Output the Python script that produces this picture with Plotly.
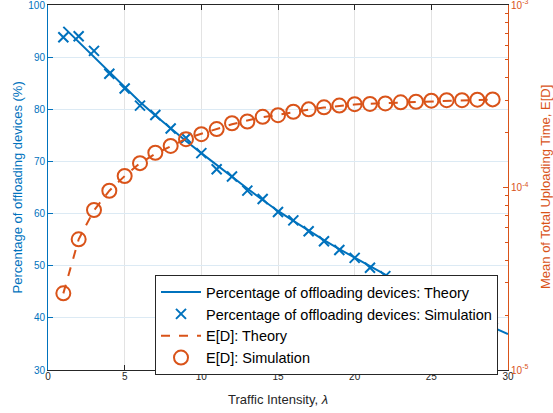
import plotly.graph_objects as go

# ---- data ----
lam_theory = list(range(1, 31))
pct_theory = [95.8, 92.9, 90.0, 87.0, 84.1, 81.4, 78.8, 76.3, 73.9, 71.6,
              69.3, 67.0, 64.8, 62.6, 60.5, 58.6, 56.7, 54.9, 53.2, 51.5,
              49.9, 48.3, 46.8, 45.3, 43.8, 42.3, 40.9, 39.5, 38.2, 36.9]

lam_sim = list(range(1, 30))
pct_sim = [93.8, 94.0, 91.2, 86.8, 84.0, 80.7, 78.9, 76.3, 74.5, 71.6,
           68.5, 67.1, 64.4, 62.8, 60.3, 58.7, 56.6, 54.7, 53.0, 51.5,
           49.6, 48.0, 46.5, 45.1, 43.6, 42.2, 40.8, 39.4, 38.1]

lam_ed = list(range(1, 30))
ed_theory = [2.63e-5, 5.2e-5, 7.5e-5, 9.6e-5, 1.155e-4, 1.36e-4, 1.53e-4, 1.69e-4, 1.85e-4, 1.97e-4,
             2.09e-4, 2.22e-4, 2.33e-4, 2.43e-4, 2.50e-4, 2.59e-4, 2.67e-4, 2.74e-4, 2.80e-4, 2.85e-4,
             2.88e-4, 2.90e-4, 2.93e-4, 2.95e-4, 2.98e-4, 3.00e-4, 3.01e-4, 3.02e-4, 3.03e-4]
ed_sim = [2.63e-5, 5.2e-5, 7.53e-5, 9.6e-5, 1.156e-4, 1.36e-4, 1.55e-4, 1.69e-4, 1.84e-4, 1.96e-4,
          2.09e-4, 2.25e-4, 2.30e-4, 2.44e-4, 2.49e-4, 2.60e-4, 2.68e-4, 2.75e-4, 2.81e-4, 2.86e-4,
          2.87e-4, 2.89e-4, 2.93e-4, 2.95e-4, 2.99e-4, 3.01e-4, 3.01e-4, 3.03e-4, 3.04e-4]

x_ticks = [0, 5, 10, 15, 20, 25, 30]
y_ticks = [30, 40, 50, 60, 70, 80, 90, 100]
y2_ticks = [1e-5, 1e-4, 1e-3]
y2_ticktext = ["10<sup>-5</sup>", "10<sup>-4</sup>", "10<sup>-3</sup>"]
y2_minor = [m * 10 ** e for e in (-5, -4) for m in range(2, 10)]

BLUE = "#0072BD"
ORANGE = "#D95319"
DARK = "#262626"
FONT = "Liberation Sans"

fig = go.Figure()
fig.add_trace(go.Scatter(x=lam_theory, y=pct_theory, mode="lines",
                         line=dict(color=BLUE, width=2),
                         name="Percentage of offloading devices: Theory"))
fig.add_trace(go.Scatter(x=lam_sim, y=pct_sim, mode="markers",
                         marker=dict(symbol="x-thin", size=10, line=dict(color=BLUE, width=2), color=BLUE),
                         name="Percentage of offloading devices: Simulation"))
fig.add_trace(go.Scatter(x=lam_ed, y=ed_theory, mode="lines", yaxis="y2",
                         line=dict(color=ORANGE, width=2, dash="dash"),
                         name="E[D]: Theory"))
fig.add_trace(go.Scatter(x=lam_ed, y=ed_sim, mode="markers", yaxis="y2",
                         marker=dict(symbol="circle-open", size=14, line=dict(color=ORANGE, width=2), color=ORANGE),
                         name="E[D]: Simulation"))

fig.update_layout(
    width=553, height=413,
    margin=dict(l=48, r=45, t=5, b=43, autoexpand=False),
    paper_bgcolor="white", plot_bgcolor="white",
    font=dict(family=FONT, size=10, color=DARK),
    showlegend=True,
    legend=dict(x=(155 - 48) / 460, y=0.260, xanchor="left", yanchor="top",
                bgcolor="white", bordercolor=DARK, borderwidth=1,
                font=dict(family=FONT, size=14.5, color="#000000"),
                itemwidth=40, tracegroupgap=0),
    xaxis=dict(range=[0, 30], tickvals=x_ticks, ticks="inside", ticklen=5,
               tickcolor=DARK, showline=True, linecolor=DARK, linewidth=1, mirror="ticks",
               showgrid=True, gridcolor="#E3E3E3", gridwidth=1, zeroline=False,
               tickfont=dict(size=10, color=DARK), ticklabelstandoff=-3,
               ticklabeloverflow="allow", automargin=False),
    yaxis=dict(range=[30, 100], tickvals=y_ticks, ticks="inside", ticklen=5,
               tickcolor=BLUE, showline=True, linecolor=BLUE, linewidth=1,
               showgrid=True, gridcolor="#DCEAF4", gridwidth=1, zeroline=False,
               tickfont=dict(size=10, color=BLUE), ticklabeloverflow="allow", automargin=False),
    yaxis2=dict(type="log", range=[-5, -3], overlaying="y", side="right",
                tickvals=y2_ticks, ticktext=y2_ticktext, ticks="inside", ticklen=5,
                tickcolor=ORANGE, showline=True, linecolor=ORANGE, linewidth=1,
                showgrid=False, zeroline=False, ticklabeloverflow="allow", automargin=False,
                minor=dict(tickvals=y2_minor, ticks="inside", ticklen=3, tickcolor=ORANGE, showgrid=False),
                tickfont=dict(size=10, color=ORANGE)),
    annotations=[
        dict(text="Traffic Intensity, <i>λ</i>", xref="paper", yref="paper",
             x=0.5, y=(370 - 399) / 365, xanchor="center", yanchor="middle",
             showarrow=False, font=dict(family=FONT, size=13, color=DARK)),
        dict(text="Percentage of offloading devices (%)", xref="paper", yref="paper",
             x=(17 - 48) / 460, y=0.5, xanchor="center", yanchor="middle", textangle=-90,
             showarrow=False, font=dict(family=FONT, size=13, color=BLUE)),
        dict(text="Mean of Total Uploading Time, E[D]", xref="paper", yref="paper",
             x=(545.5 - 48) / 460, y=0.5, xanchor="center", yanchor="middle", textangle=-90,
             showarrow=False, font=dict(family=FONT, size=13, color=ORANGE)),
    ],
)

fig.write_html("out.html", config={"displayModeBar": False},
               post_script="document.body.style.margin='0';document.body.style.padding='0';"
                           "document.documentElement.style.overflow='hidden';")
